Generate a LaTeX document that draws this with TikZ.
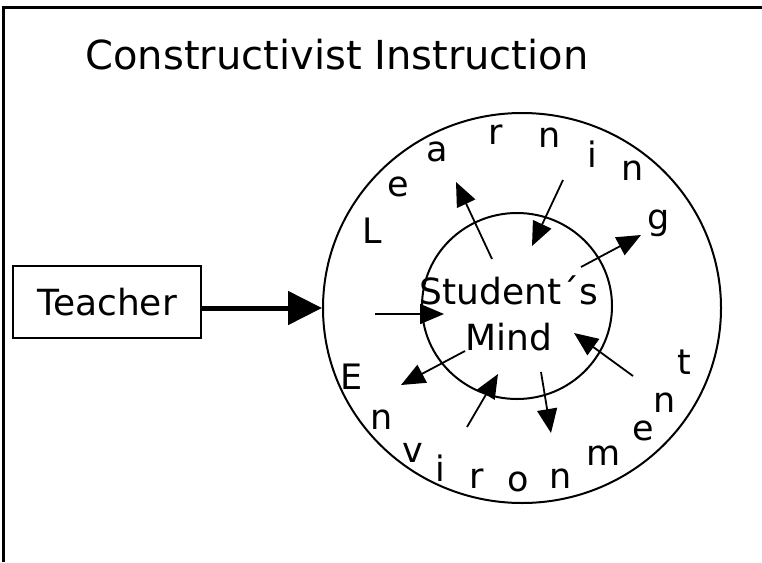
\documentclass[tikz,border=0pt]{standalone}
\usepackage{fontspec}
\setmainfont{DejaVu Sans}
\usetikzlibrary{shapes.geometric, arrows.meta}

\begin{document}
\begin{tikzpicture}[x=1pt, y=-1pt]
% Define the node styles
\tikzstyle{letter} = [inner sep=0pt, font=\fontsize{35}{35}\selectfont]
\tikzstyle{ring} = [draw, ellipse, line width=2pt, inner sep=0pt]
\tikzstyle{push} = [-{Triangle[length=24pt, width=20pt]}, line width=1.8pt]

\useasboundingbox (0,0) rectangle (762,562);

% Frame
\draw[line width=3.6pt] (3.6,562) -- (3.6,7.3) -- (762,7.3);

% Define the nodes
\node[inner sep=0pt, font=\fontsize{40}{40}\selectfont] (title) at (337,55) {Constructivist Instruction};
\node[draw, line width=2.2pt, minimum width=188pt, minimum height=72pt, font=\fontsize{36}{36}\selectfont] (teacher) at (107,302) {Teacher};
\node[ring, minimum width=398pt, minimum height=390pt] (env) at (522,308) {};
\node[ring, minimum width=190pt, minimum height=186pt] (mind) at (517,306) {};
\node[align=center, inner sep=0pt, font=\fontsize{36}{46}\selectfont] (mindtext) at (509,313) {Student´s\\Mind};

% Learning
\node[letter] (L1) at (372,231) {L};
\node[letter] (L2) at (398,187) {e};
\node[letter] (L3) at (437,152) {a};
\node[letter] (L4) at (496,135) {r};
\node[letter] (L5) at (550,138) {n};
\node[letter] (L6) at (592,154) {i};
\node[letter] (L7) at (633,171) {n};
\node[letter] (L8) at (659,223) {g};

% Environment
\node[letter] (E1) at (352,377) {E};
\node[letter] (E2) at (382,420) {n};
\node[letter] (E3) at (413,453) {v};
\node[letter] (E4) at (440,468) {i};
\node[letter] (E5) at (477,479) {r};
\node[letter] (E6) at (518,482) {o};
\node[letter] (E7) at (561,479) {n};
\node[letter] (E8) at (604,456) {m};
\node[letter] (E9) at (643,431) {e};
\node[letter] (E10) at (665,403) {n};
\node[letter] (E11) at (684,362) {t};

% Arrow ends
\coordinate (out1) at (492,259); \coordinate (out1e) at (456,182);
\coordinate (out2) at (581,267); \coordinate (out2e) at (641,235);
\coordinate (out3) at (465,351); \coordinate (out3e) at (401,385);
\coordinate (out4) at (541,372); \coordinate (out4e) at (551,433);
\coordinate (in1) at (563,180); \coordinate (in1e) at (532,246);
\coordinate (in2) at (375,314); \coordinate (in2e) at (444,314);
\coordinate (in3) at (467,427); \coordinate (in3e) at (498,374);
\coordinate (in4) at (633,376); \coordinate (in4e) at (574,333);

% Define the transitions
\draw[line width=5pt, -{Triangle[length=34pt, width=33pt]}] (teacher.east |- env.west) -- (env.west);

\draw[push] (out1) -- (out1e);
\draw[push] (out2) -- (out2e);
\draw[push] (out3) -- (out3e);
\draw[push] (out4) -- (out4e);

\draw[push] (in1) -- (in1e);
\draw[push] (in2) -- (in2e);
\draw[push] (in3) -- (in3e);
\draw[push] (in4) -- (in4e);

\end{tikzpicture}
\end{document}
